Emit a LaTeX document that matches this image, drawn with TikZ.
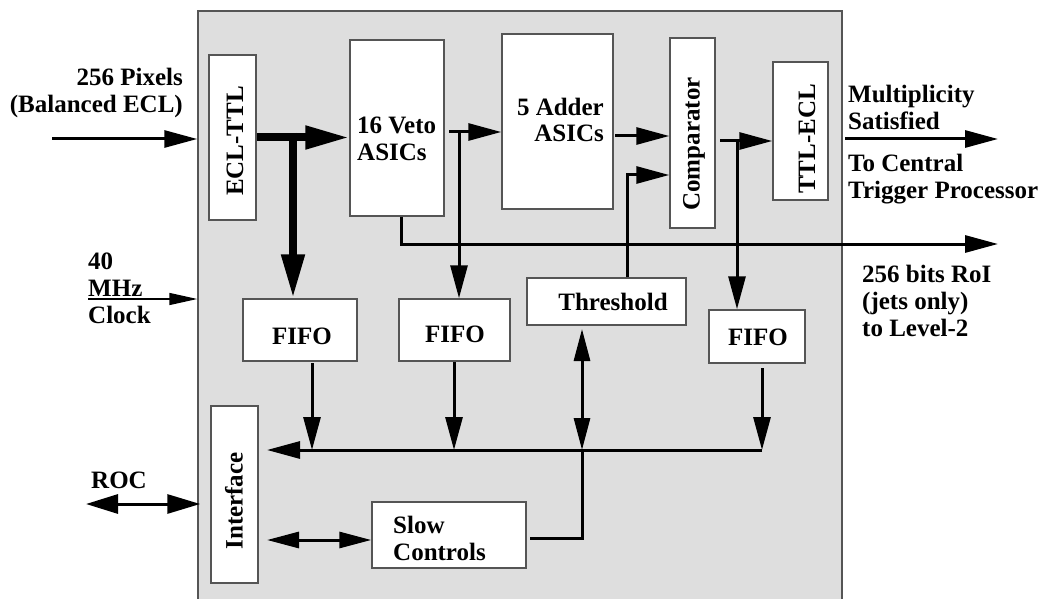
\documentclass[tikz,border=0pt]{standalone}
\usepackage{fontspec}
\setmainfont{Liberation Serif}
\usetikzlibrary{arrows.meta}
\definecolor{panel}{HTML}{DEDEDE}
\definecolor{edge}{HTML}{555555}
\begin{document}
\begin{tikzpicture}[x=1pt,y=-1pt,
  txt/.style={font=\bfseries\fontsize{25}{27}\selectfont, inner sep=0pt, text=black},
  box/.style={draw=edge, fill=white, line width=1.5pt, inner sep=0pt},
  wire/.style={line width=3pt, black},
  fat/.style={line width=8pt, black},
  hd/.style={-{Triangle[length=33pt,width=17pt]}},
  hdfat/.style={-{Triangle[length=44pt,width=22pt]}},
  hdthin/.style={-{Triangle[length=28pt,width=12pt]}},
  dbl/.style={{Triangle[length=32pt,width=19pt]}-{Triangle[length=33pt,width=19pt]}},
  dbls/.style={{Triangle[length=32pt,width=16pt]}-{Triangle[length=32pt,width=16pt]}},
]
\useasboundingbox (0,0) rectangle (1050,599);
% board
\node[draw=edge, fill=panel, line width=1.5pt, inner sep=0pt, minimum width=644pt, minimum height=600pt] (board) at (520,311) {};

% boxes
\node[box, minimum width=47pt, minimum height=165pt] (ecl) at (232.5,137.5) {};
\node[box, minimum width=94pt, minimum height=176pt] (veto) at (397,128) {};
\node[box, minimum width=111pt, minimum height=175pt] (adder) at (557.5,121.5) {};
\node[box, minimum width=45pt, minimum height=190pt] (comp) at (692.5,133) {};
\node[box, minimum width=55pt, minimum height=138pt] (ttl) at (800.5,131) {};
\node[box, minimum width=114pt, minimum height=62pt] (fifo1) at (300,330) {};
\node[box, minimum width=111pt, minimum height=62pt] (fifo2) at (454.5,330) {};
\node[box, minimum width=159pt, minimum height=47pt] (thr) at (606.5,301.5) {};
\node[box, minimum width=96pt, minimum height=53pt] (fifo3) at (757,336.5) {};
\node[box, minimum width=47pt, minimum height=177pt] (iface) at (234.5,494.5) {};
\node[box, minimum width=154pt, minimum height=66pt] (slow) at (449,535) {};

% box texts
\node[txt, rotate=90] (ecltxt) at (235,141) {ECL-TTL};
\node[txt, anchor=north west, align=left] (vetotxt) at (357,117) {16 Veto\\ASICs};
\node[txt, anchor=north east, align=right, font=\bfseries\fontsize{25}{25.5}\selectfont] (addertxt) at (604,98) {5 Adder\\ASICs};
\node[txt, rotate=90] (comptxt) at (694,144) {Comparator};
\node[txt, rotate=90] (ttltxt) at (807,139) {TTL-ECL};
\node[txt] (f1txt) at (302,336) {FIFO};
\node[txt] (f2txt) at (455,334) {FIFO};
\node[txt] (f3txt) at (758,337) {FIFO};
\node[txt] (thrtxt) at (613,302) {Threshold};
\node[txt, rotate=90] (ifacetxt) at (234,501) {Interface};
\node[txt, anchor=north west, align=left] (slowtxt) at (393,516) {Slow\\Controls};

% outside labels
\node[txt, anchor=north east, align=right] (pixlab) at (183,68) {256 Pixels\\(Balanced ECL)};
\node[txt, anchor=north west, align=left] (clklab) at (88,253) {40\\MHz\\Clock};
\node[txt, anchor=north west] (roclab) at (91,472) {ROC};
\node[txt, anchor=north west, align=left] (multlab) at (848,85) {Multiplicity\\Satisfied};
\node[txt, anchor=north west, align=left] (ctplab) at (848,154) {To Central\\Trigger Processor};
\node[txt, anchor=north west, align=left] (roilab) at (862,265) {256 bits RoI\\(jets only)\\to Level-2};

% coordinates
\coordinate (pixin) at (52,139);
\coordinate (clkin) at (88,299);
\coordinate (rocin) at (86,504);
\coordinate (br1) at (293,133);
\coordinate (v1) at (449,132);
\coordinate (br2) at (459,130.5);
\coordinate (roiend) at (998,244);
\coordinate (a2c) at (615,136);
\coordinate (tc) at (627,175);
\coordinate (c2t) at (720,141);
\coordinate (br3) at (737,139.5);
\coordinate (mout) at (845,139);
\coordinate (mend) at (998,139);
\coordinate (busL) at (267,450);
\coordinate (busR) at (762,450);
\coordinate (f1o) at (312,363);
\coordinate (f2o) at (454,362);
\coordinate (f3o) at (762,368);
\coordinate (thrb) at (582,329);
\coordinate (slo) at (530,538);
\coordinate (ifs) at (267,540);

% connectors
\draw[wire, hd] (pixin) -- (pixin -| board.west);
\draw[line width=1.5pt, hdthin] (clkin) -- (clkin -| board.west);
\draw[wire, dbl] (rocin) -- ([xshift=3pt]rocin -| board.west);
\draw[fat, hdfat] (ecl.east) -- (ecl.east -| veto.west);
\draw[fat, hdfat] (br1) -- (br1 |- fifo1.north);
\draw[wire, hd] (v1) -- (v1 -| adder.west);
\draw[wire, hd] (br2) -- (br2 |- fifo2.north);
\draw[wire, hd] ([xshift=4pt]veto.south) |- (roiend);
\draw[wire, hd] (a2c) -- (a2c -| comp.west);
\draw[wire, hd, line join=miter] (tc |- thr.north) -- (tc) -- (tc -| comp.west);
\draw[wire, hd] (c2t) -- (c2t -| ttl.west);
\draw[wire, hd] (br3) -- (br3 |- fifo3.north);
\draw[wire, hd] (mout) -- (mend);
\draw[wire, hd] (f1o) -- (f1o |- busL);
\draw[wire, hd] (f2o) -- (f2o |- busL);
\draw[wire, hd] (f3o) -- (f3o |- busL);
\draw[wire, hd] (busR) -- (busL);
\draw[wire, dbls] (thrb) -- (thrb |- busL);
\draw[wire, line join=miter] (slo) -| (thrb |- busL);
\draw[wire, dbls] (ifs) -- (ifs -| slow.west);
\end{tikzpicture}
\end{document}
